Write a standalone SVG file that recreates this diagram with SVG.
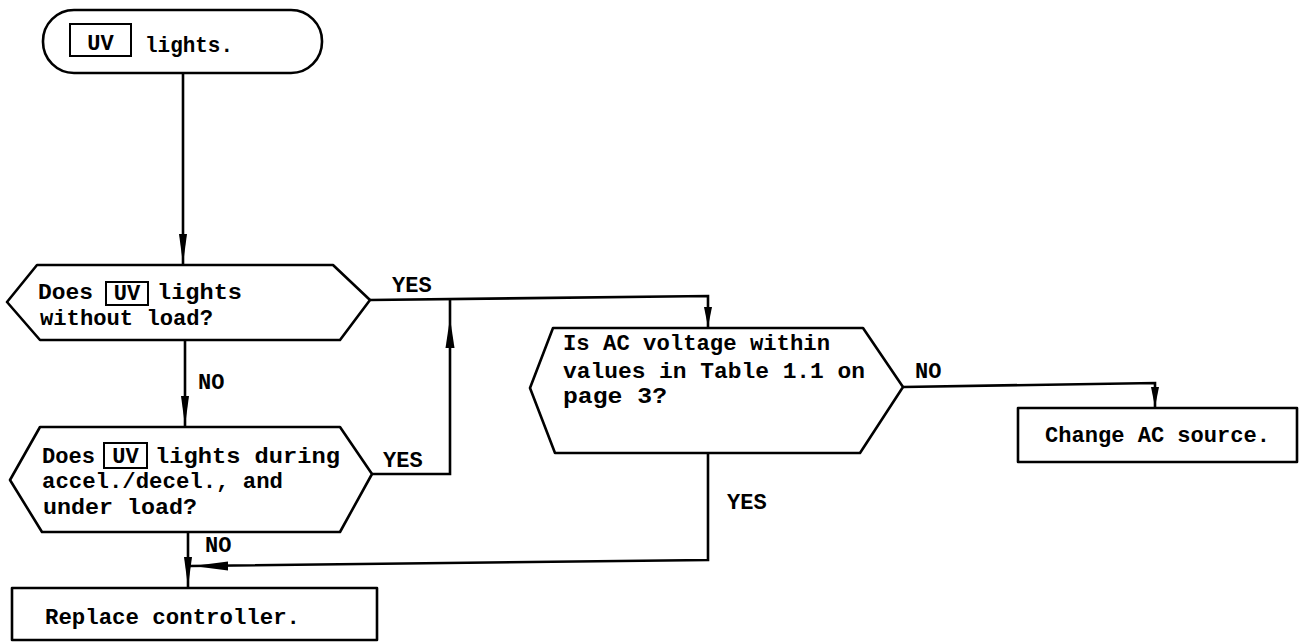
<svg xmlns="http://www.w3.org/2000/svg" width="1304" height="644" viewBox="0 0 1304 644">
<style>
.s{fill:#fff;stroke:#000;stroke-width:2.6;stroke-linejoin:round}
.b{fill:none;stroke:#000;stroke-width:2}
.c{fill:none;stroke:#000;stroke-width:2.6}
text{font-family:"Liberation Mono","DejaVu Sans Mono",monospace;font-weight:bold;font-size:22px;fill:#000}
.a{fill:#000}
</style>
<defs>
<marker id="ah" markerUnits="userSpaceOnUse" markerWidth="32" markerHeight="10" refX="30" refY="4.5" orient="auto">
<path d="M0,0.5 L30,4.5 L0,8.5 Z" class="a"/>
</marker>
<marker id="ahs" markerUnits="userSpaceOnUse" markerWidth="22" markerHeight="10" refX="20" refY="4.5" orient="auto">
<path d="M0,0.5 L20,4.5 L0,8.5 Z" class="a"/>
</marker>
</defs>
<rect width="1304" height="644" fill="#fff"/>
<g id="connectors">
<path class="c" d="M183,73 V264" marker-end="url(#ah)"/>
<path class="c" d="M185,340 V426" marker-end="url(#ah)"/>
<path class="c" d="M370,300 L708,296 V327" marker-end="url(#ahs)"/>
<path class="c" d="M372,474 H450 V298"/>
<path class="a" d="M450,318 L454.5,348 L445.5,348 Z"/>
<path class="c" d="M188,532 V587" marker-end="url(#ah)"/>
<path class="c" d="M708,453 V560 L190,566"/>
<path class="a" d="M193,566 L228,561.5 L228,570.5 Z"/>
<path class="c" d="M903,387 L1155,383 V407" marker-end="url(#ahs)"/>
<text x="392" y="292">YES</text>
<text x="198" y="389">NO</text>
<text x="383" y="467">YES</text>
<text x="205" y="552">NO</text>
<text x="727" y="509">YES</text>
<text x="915" y="378">NO</text>
</g>
<g id="start">
<rect class="s" x="43" y="10" width="279" height="63" rx="31" ry="31"/>
<rect class="b" x="70" y="24" width="61" height="32"/>
<text x="100.5" y="50" text-anchor="middle">UV</text>
<text x="145" y="52" textLength="88" lengthAdjust="spacingAndGlyphs">lights.</text>
</g>
<g id="decision1">
<polygon class="s" points="7,302 37,265 333,265 370,300 340,340 40,340"/>
<rect class="b" x="106" y="282" width="42" height="23"/>
<text x="38" y="299" textLength="55" lengthAdjust="spacingAndGlyphs">Does</text>
<text x="127" y="300" text-anchor="middle">UV</text>
<text x="157" y="299" textLength="85" lengthAdjust="spacingAndGlyphs">lights</text>
<text x="40" y="325" textLength="173" lengthAdjust="spacingAndGlyphs">without load?</text>
</g>
<g id="decision2">
<polygon class="s" points="10,480 40,427 340,427 372,474 340,532 42,532"/>
<rect class="b" x="104" y="443" width="43" height="25"/>
<text x="42" y="463" textLength="53" lengthAdjust="spacingAndGlyphs">Does</text>
<text x="125.5" y="463" text-anchor="middle">UV</text>
<text x="155" y="463" textLength="185" lengthAdjust="spacingAndGlyphs">lights during</text>
<text x="42" y="488" textLength="241" lengthAdjust="spacingAndGlyphs">accel./decel., and</text>
<text x="43" y="514" textLength="154" lengthAdjust="spacingAndGlyphs">under load?</text>
</g>
<g id="decision3">
<polygon class="s" points="530,388 553,328 863,328 903,387 860,453 555,453"/>
<text x="563" y="350" textLength="267" lengthAdjust="spacingAndGlyphs">Is AC voltage within</text>
<text x="563" y="378" textLength="302" lengthAdjust="spacingAndGlyphs">values in Table 1.1 on</text>
<text x="563" y="403" textLength="104" lengthAdjust="spacingAndGlyphs">page 3?</text>
</g>
<g id="change">
<rect class="s" x="1018" y="408" width="279" height="54"/>
<text x="1045" y="442" textLength="225" lengthAdjust="spacingAndGlyphs">Change AC source.</text>
</g>
<g id="replace">
<rect class="s" x="12" y="588" width="365" height="52"/>
<text x="45" y="624" textLength="255" lengthAdjust="spacingAndGlyphs">Replace controller.</text>
</g>
</svg>
